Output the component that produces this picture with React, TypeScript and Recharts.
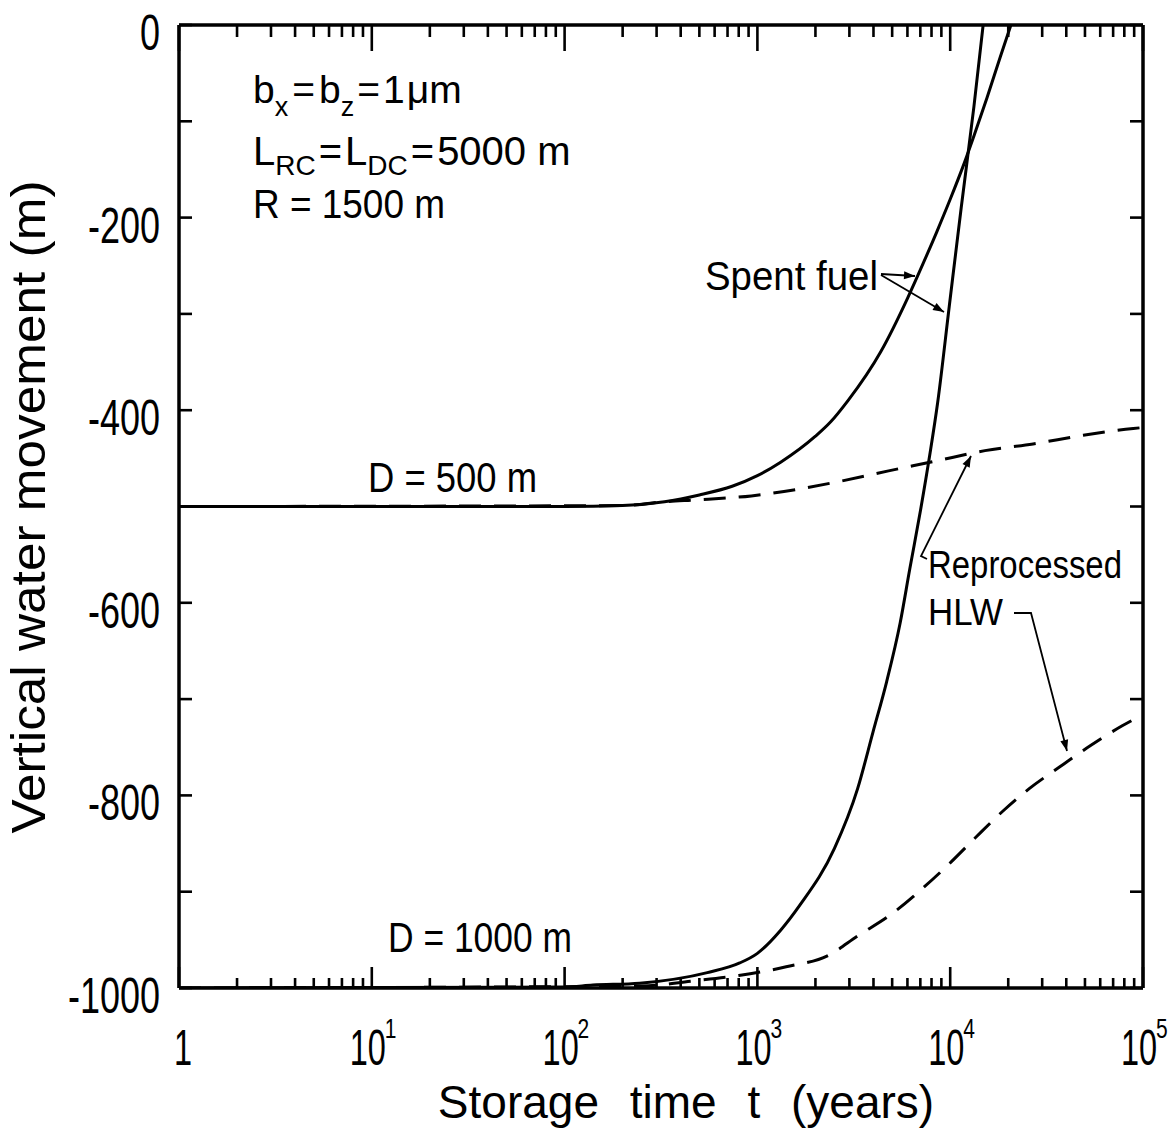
import React from 'react';
import { LineChart, Line, XAxis, YAxis, Customized } from 'recharts';

const FONT = "'Liberation Sans', Arial, Helvetica, sans-serif";

// ---------- axis ticks ----------
const xMajorTicks = [1, 10, 100, 1000, 10000, 100000];
const xTickExponents = ['', '1', '2', '3', '4', '5'];
const xMinorTicks = [
  2, 3, 4, 5, 6, 7, 8, 9,
  20, 30, 40, 50, 60, 70, 80, 90,
  200, 300, 400, 500, 600, 700, 800, 900,
  2000, 3000, 4000, 5000, 6000, 7000, 8000, 9000,
  20000, 30000, 40000, 50000, 60000, 70000, 80000, 90000,
];
const xAllTicks = [...xMajorTicks, ...xMinorTicks].sort((a, b) => a - b);
const yTicks = [0, -100, -200, -300, -400, -500, -600, -700, -800, -900, -1000];
const yLabelTicks = [0, -200, -400, -600, -800, -1000];

// ---------- series (t in years, v in m) ----------
// Spent fuel, D = 500 m (solid)
const spent500T = [1, 100, 200, 330, 500, 740, 1000, 1320, 2000, 2400, 2950, 4370, 6030, 6760, 8510, 10000, 11750, 13180, 15490, 18200, 20650];
const spent500V = [-500, -500, -499, -495, -488, -479, -468, -454, -427, -412, -390, -339, -283, -261, -215, -181, -145, -117, -76, -33, 0];

// Spent fuel, D = 1000 m (solid)
const spent1000T = [1, 100, 140, 245, 550, 810, 1000, 1320, 1660, 2510, 3310, 3980, 4680, 5500, 6170, 7000, 7870, 8610, 9890, 11400, 13270, 14820];
const spent1000V = [-1000, -999, -997, -995, -984, -974, -964, -940, -914, -855, -793, -734, -682, -621, -565, -505, -444, -392, -292, -190, -85, 0];

// Reprocessed HLW, D = 500 m (dashed)
const hlw500T = [1, 200, 330, 500, 930, 2510, 4790, 8320, 15140, 26900, 49000, 89000, 100000];
const hlw500V = [-500, -499, -495, -493, -489, -475, -463, -453, -442, -435, -426, -419, -418];

// Reprocessed HLW, D = 1000 m (dashed)
const hlw1000T = [1, 250, 450, 800, 1410, 2340, 3310, 4900, 7240, 9770, 13500, 18600, 25700, 37200, 53700, 77600, 100000];
const hlw1000V = [-1000, -998, -993, -987, -978, -966, -946, -924, -896, -872, -844, -817, -793, -770, -748, -728, -716];

const zip = (ts: number[], vs: number[]) => ts.map((t, i) => ({ t, v: vs[i] }));

const spent500 = zip(spent500T, spent500V);
const spent1000 = zip(spent1000T, spent1000V);
const hlw500 = zip(hlw500T, hlw500V);
const hlw1000 = zip(hlw1000T, hlw1000V);

// ---------- tick renderers ----------
function BottomTick(props: any) {
  const { x, y, payload } = props;
  const idx = xMajorTicks.indexOf(payload.value);
  const major = idx >= 0;
  return (
    <g>
      <line x1={x} y1={y} x2={x} y2={y - (major ? 21 : 10)} stroke="#000" strokeWidth={2.6} />
      {major && idx === 0 && (
        <text transform={`translate(${x + 4},${y + 77}) scale(0.65,1)`} textAnchor="middle" fontSize={50} fontFamily={FONT} fill="#000">
          1
        </text>
      )}
      {major && idx > 0 && (
        <g>
          <text transform={`translate(${x - 22},${y + 77}) scale(0.65,1)`} textAnchor="start" fontSize={50} fontFamily={FONT} fill="#000">
            10
          </text>
          <text transform={`translate(${x + 13},${y + 50}) scale(0.75,1)`} textAnchor="start" fontSize={28} fontFamily={FONT} fill="#000">
            {xTickExponents[idx]}
          </text>
        </g>
      )}
    </g>
  );
}

function TopTick(props: any) {
  const { x, y, payload } = props;
  const major = xMajorTicks.indexOf(payload.value) >= 0;
  return <line x1={x} y1={y} x2={x} y2={y + (major ? 26 : 12)} stroke="#000" strokeWidth={2.6} />;
}

function LeftTick(props: any) {
  const { x, y, payload } = props;
  const labelled = yLabelTicks.indexOf(payload.value) >= 0;
  return (
    <g>
      <line x1={x} y1={y} x2={x + 13} y2={y} stroke="#000" strokeWidth={2.6} />
      {labelled && (
        <text transform={`translate(${x - 19},${y + 25}) scale(0.72,1)`} textAnchor="end" fontSize={50} fontFamily={FONT} fill="#000">
          {payload.value === 0 ? '0' : `-${Math.abs(payload.value)}`}
        </text>
      )}
    </g>
  );
}

function RightTick(props: any) {
  const { x, y } = props;
  return <line x1={x} y1={y} x2={x - 13} y2={y} stroke="#000" strokeWidth={2.6} />;
}

// ---------- annotations ----------
function Arrow({ pts }: { pts: number[][] }) {
  const n = pts.length;
  const [x1, y1] = pts[n - 2];
  const [x2, y2] = pts[n - 1];
  const a = Math.atan2(y2 - y1, x2 - x1);
  const L = 11;
  const W = 4;
  const bx = x2 - L * Math.cos(a);
  const by = y2 - L * Math.sin(a);
  const p1 = `${bx + W * Math.sin(a)},${by - W * Math.cos(a)}`;
  const p2 = `${bx - W * Math.sin(a)},${by + W * Math.cos(a)}`;
  return (
    <g>
      <polyline points={pts.map((p) => p.join(',')).join(' ')} fill="none" stroke="#000" strokeWidth={1.8} />
      <polygon points={`${x2},${y2} ${p1} ${p2}`} fill="#000" />
    </g>
  );
}

function Annotations() {
  const t = { fontFamily: FONT, fill: '#000' } as const;
  return (
    <g>
      <text x={253} y={103} fontSize={39} {...t}>
        b<tspan fontSize={27} dy={13}>x</tspan>
        <tspan dy={-13} dx={4}>=</tspan>
        <tspan dx={4}>b</tspan>
        <tspan fontSize={27} dy={13}>z</tspan>
        <tspan dy={-13} dx={3}>=</tspan>
        <tspan dx={3}>1</tspan>
        <tspan dx={2}>μm</tspan>
      </text>
      <text x={253} y={165} fontSize={40} {...t}>
        L<tspan fontSize={28} dy={10}>RC</tspan>
        <tspan dy={-10} dx={3}>=</tspan>
        <tspan dx={3}>L</tspan>
        <tspan fontSize={28} dy={10}>DC</tspan>
        <tspan dy={-10} dx={3}>=</tspan>
        <tspan dx={3}>5000 m</tspan>
      </text>
      <text x={253} y={218} fontSize={40} textLength={192} lengthAdjust="spacingAndGlyphs" {...t}>
        R = 1500 m
      </text>

      <text x={705} y={290} fontSize={41} textLength={173} lengthAdjust="spacingAndGlyphs" {...t}>
        Spent fuel
      </text>
      <Arrow pts={[[881, 274], [915, 276]]} />
      <Arrow pts={[[881, 275], [944, 312]]} />

      <text x={368} y={492} fontSize={42} textLength={169} lengthAdjust="spacingAndGlyphs" {...t}>
        D = 500 m
      </text>
      <text x={388} y={952} fontSize={42} textLength={184} lengthAdjust="spacingAndGlyphs" {...t}>
        D = 1000 m
      </text>

      <text x={928} y={578} fontSize={39} textLength={194} lengthAdjust="spacingAndGlyphs" {...t}>
        Reprocessed
      </text>
      <text x={928} y={625} fontSize={37} textLength={75} lengthAdjust="spacingAndGlyphs" {...t}>
        HLW
      </text>
      <Arrow pts={[[927, 559], [921, 556], [971, 456]]} />
      <Arrow pts={[[1014, 613], [1031, 613], [1067, 751]]} />

      <text
        transform="translate(45,507) rotate(-90)"
        textAnchor="middle"
        fontSize={49}
        textLength={653}
        lengthAdjust="spacingAndGlyphs"
        {...t}
      >
        Vertical water movement (m)
      </text>
      <text x={686} y={1118} textAnchor="middle" fontSize={46} style={{ wordSpacing: '18px' }} {...t}>
        Storage time t (years)
      </text>
    </g>
  );
}

export default function App() {
  const axisLine = { stroke: '#000', strokeWidth: 3.5 };
  return (
    <div style={{ position: 'absolute', left: 0, top: 0, width: 1172, height: 1133, background: '#fff' }}>
      <LineChart width={1172} height={1133} margin={{ top: 0, right: 0, bottom: 0, left: 0 }}>
        <XAxis
          xAxisId="b"
          type="number"
          dataKey="t"
          scale="log"
          domain={[1, 100000]}
          allowDataOverflow
          ticks={xAllTicks}
          interval={0}
          orientation="bottom"
          height={145}
          tick={<BottomTick />}
          tickLine={false}
          tickSize={0}
          tickMargin={0}
          axisLine={axisLine}
        />
        <XAxis
          xAxisId="t"
          type="number"
          dataKey="t"
          scale="log"
          domain={[1, 100000]}
          allowDataOverflow
          ticks={xAllTicks}
          interval={0}
          orientation="top"
          height={25}
          tick={<TopTick />}
          tickLine={false}
          tickSize={0}
          tickMargin={0}
          axisLine={axisLine}
        />
        <YAxis
          yAxisId="l"
          type="number"
          domain={[-1000, 0]}
          allowDataOverflow
          ticks={yTicks}
          interval={0}
          orientation="left"
          width={179}
          tick={<LeftTick />}
          tickLine={false}
          tickSize={0}
          tickMargin={0}
          axisLine={axisLine}
        />
        <YAxis
          yAxisId="r"
          type="number"
          domain={[-1000, 0]}
          allowDataOverflow
          ticks={yTicks}
          interval={0}
          orientation="right"
          width={29}
          tick={<RightTick />}
          tickLine={false}
          tickSize={0}
          tickMargin={0}
          axisLine={axisLine}
        />
        <Line xAxisId="b" yAxisId="l" data={spent500} dataKey="v" type="monotone" stroke="#000" strokeWidth={3} dot={false} isAnimationActive={false} />
        <Line xAxisId="b" yAxisId="l" data={spent1000} dataKey="v" type="monotone" stroke="#000" strokeWidth={3} dot={false} isAnimationActive={false} />
        <Line xAxisId="b" yAxisId="l" data={hlw500} dataKey="v" type="monotone" stroke="#000" strokeWidth={3} strokeDasharray="22 13" dot={false} isAnimationActive={false} />
        <Line xAxisId="b" yAxisId="l" data={hlw1000} dataKey="v" type="monotone" stroke="#000" strokeWidth={3} strokeDasharray="22 13" dot={false} isAnimationActive={false} />
        <Customized component={Annotations} />
      </LineChart>
    </div>
  );
}
